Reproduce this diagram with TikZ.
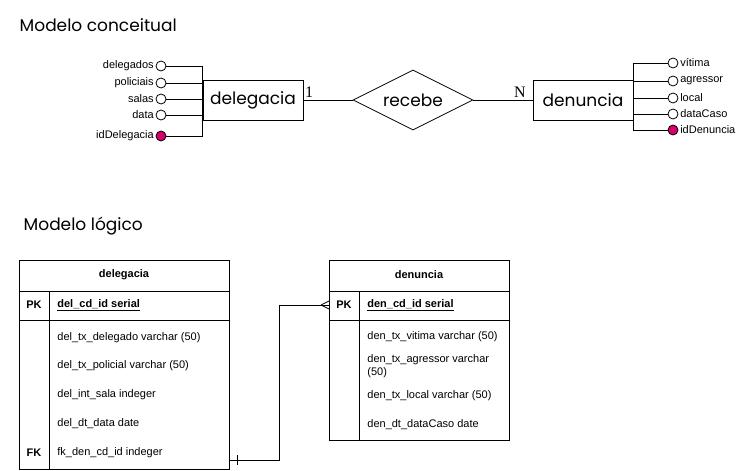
\documentclass[tikz,border=0pt]{standalone}
\usepackage{fontspec}
\setmainfont{Liberation Sans}
\newfontfamily\handfont{Poppins}
\newfontfamily\numfont{Liberation Serif}
\usetikzlibrary{shapes.geometric,calc}

\definecolor{keypink}{RGB}{214,0,108}

\tikzset{
	entity/.style={draw, minimum width=100pt, minimum height=40pt, inner sep=0pt,
		font=\handfont\fontsize{17}{20}\selectfont},
	relation/.style={draw, diamond, aspect=2, minimum width=120pt, minimum height=60pt,
		inner sep=0pt, font=\handfont\fontsize{17}{20}\selectfont},
	attr/.style={draw, circle, minimum size=10pt, inner sep=0pt, fill=white},
	keyattr/.style={attr, fill=keypink},
	attrlabel/.style={font=\fontsize{11}{13}\selectfont, inner sep=1.5pt},
	rowtext/.style={anchor=west, font=\fontsize{11}{13}\selectfont, inner sep=0pt},
	headtext/.style={font=\bfseries\fontsize{11}{13}\selectfont, inner sep=0pt},
	title/.style={anchor=west, font=\handfont\fontsize{17}{20}\selectfont},
}

\begin{document}
\begin{tikzpicture}[x=1pt, y=-1pt, line width=0.8pt]
	\useasboundingbox (0,0) rectangle (740,471);

	% modelo conceitual
	\node[title] (tconc) at (16,25) {Modelo conceitual};

	\node[entity] (del) at (253,100) {delegacia};
	\node[relation] (rec) at (413,100) {recebe};
	\node[entity] (den) at (583,100) {denuncia};

	\draw (del) -- (rec) -- (den);
	\node[font=\numfont\fontsize{16}{18}\selectfont] (card1) at (309,92) {1};
	\node[font=\numfont\fontsize{16}{18}\selectfont] (cardN) at (520,92) {N};

	% atributos de delegacia
	\node[attr] (a1) at (161,66) {};
	\node[attr] (a2) at (161,83) {};
	\node[attr] (a3) at (161,99) {};
	\node[attr] (a4) at (161,115) {};
	\node[keyattr] (a5) at (161,136) {};
	\foreach \a/\t in {a1/delegados, a2/policiais, a3/salas, a4/data, a5/idDelegacia}{
		\node[attrlabel, anchor=east] at (\a.west) {\t};
		\draw (\a.east) -| (del.west);
	}

	% atributos de denuncia
	\node[attr] (b1) at (673,63) {};
	\node[attr] (b2) at (673,81) {};
	\node[attr] (b3) at (673,98) {};
	\node[attr] (b4) at (673,114) {};
	\node[keyattr] (b5) at (673,130) {};
	\foreach \b/\t in {b1/vítima, b2/agressor, b3/local, b4/dataCaso, b5/idDenuncia}{
		\node[attrlabel, anchor=west] at (\b.east) {\t};
		\draw (\b.west) -| (den.east);
	}

	% modelo logico
	\node[title] (tlog) at (20,226) {Modelo lógico};

	% tabela delegacia
	\draw (19,260) rectangle (229,469);
	\draw (19,291) -- (229,291);
	\draw (19,320) -- (229,320);
	\draw (49,291) -- (49,469);
	\node[headtext] (tdel) at (124,275) {delegacia};
	\node[headtext] (pkdel) at (34,305) {PK};
	\node[rowtext, font=\bfseries\fontsize{11}{13}\selectfont] (idel) at (57,305) {\underline{del\_cd\_id serial}};
	\node[rowtext] (r1) at (57,338) {del\_tx\_delegado varchar (50)};
	\node[rowtext] (r2) at (57,366) {del\_tx\_policial varchar (50)};
	\node[rowtext] (r3) at (57,395) {del\_int\_sala indeger};
	\node[rowtext] (r4) at (57,424) {del\_dt\_data date};
	\node[headtext] (fkdel) at (34,453) {FK};
	\node[rowtext] (r5) at (57,453) {fk\_den\_cd\_id indeger};

	% tabela denuncia
	\draw (329,260) rectangle (509,440);
	\draw (329,291) -- (509,291);
	\draw (329,320) -- (509,320);
	\draw (359,291) -- (359,440);
	\node[headtext] (tden) at (419,275) {denuncia};
	\node[headtext] (pkden) at (344,305) {PK};
	\node[rowtext, font=\bfseries\fontsize{11}{13}\selectfont] (iden) at (367,305) {\underline{den\_cd\_id serial}};
	\node[rowtext] (s1) at (367,337) {den\_tx\_vitima varchar (50)};
	\node[rowtext, align=left] (s2) at (367,366) {den\_tx\_agressor varchar\\(50)};
	\node[rowtext] (s3) at (367,396) {den\_tx\_local varchar (50)};
	\node[rowtext] (s4) at (367,425) {den\_dt\_dataCaso date};

	% ligacao entre tabelas
	\coordinate (fkend) at (229,460);
	\coordinate (pkend) at (329,305);
	\draw (fkend) -- ++(50,0) |- (pkend);
	\draw ($(fkend)+(8,-5)$) -- ++(0,10);
	\draw ($(pkend)+(-8,0)$) -- ++(8,-4);
	\draw ($(pkend)+(-8,0)$) -- ++(8,4);
\end{tikzpicture}
\end{document}
